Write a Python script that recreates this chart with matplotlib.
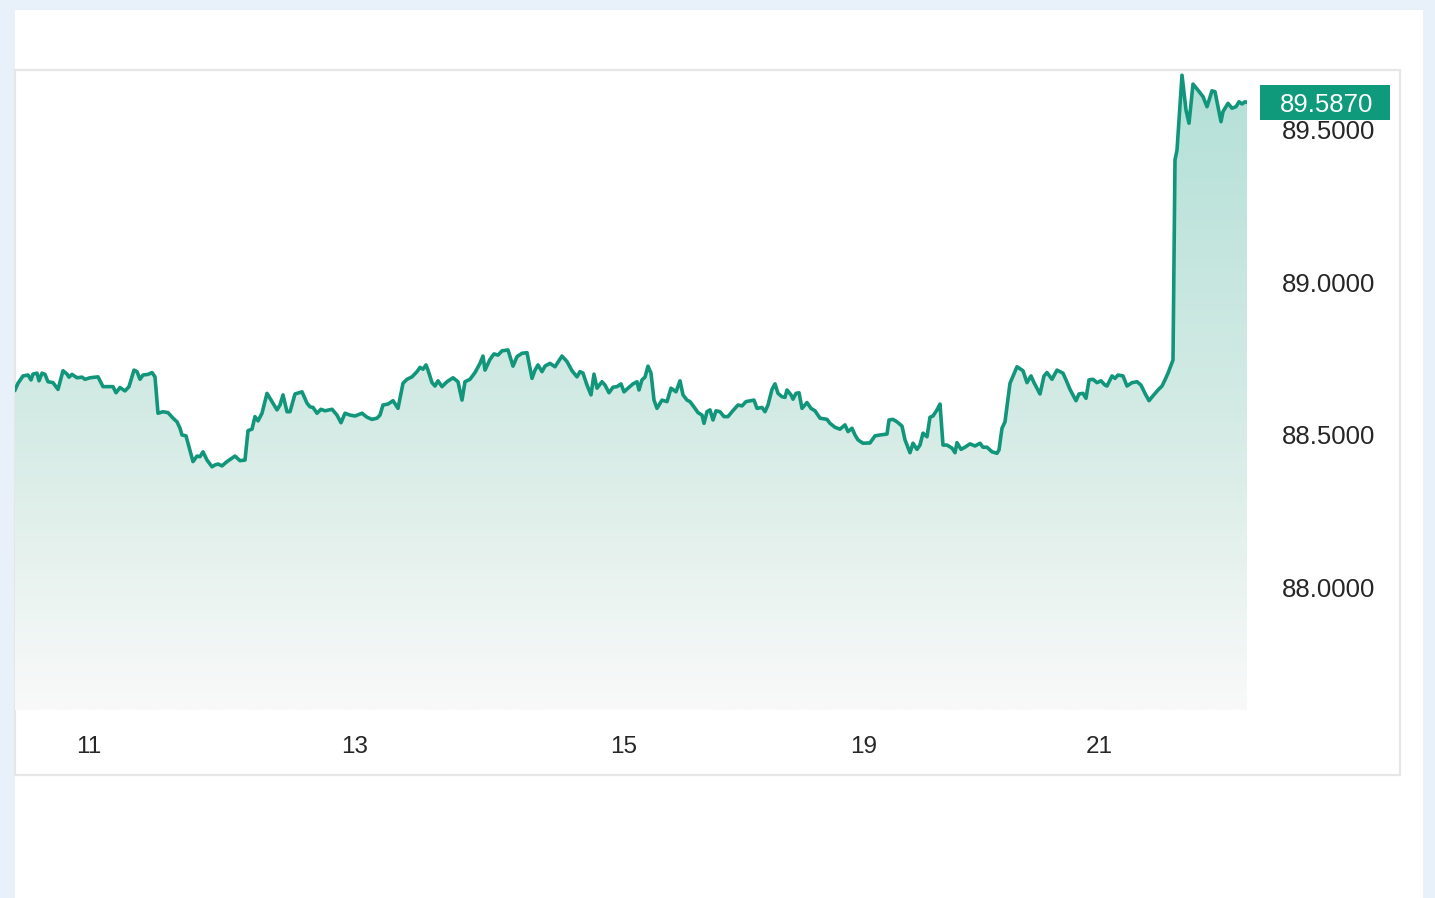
"""
Intraday price line with gradient area fill, styled like a finance widget.
"""

import numpy as np
import matplotlib.pyplot as plt
from matplotlib.colors import LinearSegmentedColormap
from matplotlib.patches import Rectangle
from matplotlib import transforms

# time position along the session axis (trading time units)
t = [
    0, 3, 8, 13, 16, 18, 22, 24, 27, 30,
    33, 38, 43, 48, 52, 54, 57, 62, 67, 70,
    75, 83, 88, 95, 98, 101, 105, 110, 114, 119,
    122, 125, 128, 133, 137, 140, 143, 148, 153, 158,
    162, 165, 167, 171, 173, 178, 182, 185, 188, 192,
    197, 200, 203, 207, 212, 217, 220, 225, 230, 233,
    237, 240, 243, 247, 252, 257, 262, 265, 268, 272,
    275, 280, 287, 292, 295, 298, 302, 306, 310, 317,
    322, 326, 330, 335, 340, 347, 352, 357, 362, 365,
    368, 373, 378, 383, 388, 392, 397, 402, 405, 408,
    411, 413, 417, 420, 423, 427, 432, 438, 443, 447,
    450, 455, 460, 465, 468, 470, 475, 479, 483, 487,
    493, 498, 502, 507, 512, 517, 520, 523, 527, 530,
    535, 540, 547, 552, 557, 562, 565, 568, 572, 576,
    579, 582, 587, 590, 594, 598, 602, 606, 609, 613,
    618, 622, 624, 627, 630, 633, 636, 639, 642, 647,
    652, 656, 661, 665, 668, 672, 675, 680, 683, 687,
    689, 692, 695, 698, 701, 705, 709, 713, 717, 720,
    723, 727, 731, 736, 739, 742, 747, 750, 753, 757,
    760, 763, 767, 770, 772, 776, 778, 781, 784, 787,
    792, 796, 800, 805, 812, 815, 820, 825, 830, 833,
    837, 840, 843, 848, 855, 860, 865, 872, 874, 878,
    882, 887, 890, 895, 898, 902, 905, 908, 912, 915,
    918, 922, 925, 928, 932, 937, 940, 942, 946, 950,
    955, 960, 965, 968, 972, 977, 982, 984, 987, 990,
    995, 1002, 1008, 1012, 1016, 1019, 1025, 1029, 1032, 1037,
    1042, 1048, 1051, 1055, 1061, 1064, 1068, 1071, 1074, 1078,
    1082, 1086, 1090, 1092, 1097, 1100, 1103, 1108, 1112, 1117,
    1122, 1126, 1130, 1134, 1138, 1143, 1147, 1150, 1153, 1158,
    1160, 1162, 1167, 1171, 1174, 1178, 1183, 1188, 1192, 1197,
    1200, 1206, 1208, 1213, 1217, 1221, 1224, 1227, 1230, 1232,
]

price = [
    88.647, 88.669, 88.693, 88.696, 88.680, 88.699, 88.702, 88.677, 88.702, 88.698,
    88.674, 88.671, 88.649, 88.710, 88.699, 88.689, 88.698, 88.687, 88.689, 88.682,
    88.687, 88.690, 88.658, 88.658, 88.658, 88.638, 88.655, 88.644, 88.658, 88.712,
    88.707, 88.682, 88.696, 88.698, 88.704, 88.690, 88.571, 88.576, 88.573, 88.555,
    88.543, 88.522, 88.500, 88.497, 88.473, 88.413, 88.431, 88.429, 88.445, 88.418,
    88.396, 88.402, 88.405, 88.399, 88.413, 88.424, 88.431, 88.416, 88.418, 88.514,
    88.519, 88.560, 88.546, 88.571, 88.636, 88.609, 88.582, 88.598, 88.631, 88.576,
    88.576, 88.634, 88.641, 88.604, 88.592, 88.590, 88.571, 88.584, 88.579, 88.584,
    88.565, 88.540, 88.571, 88.565, 88.562, 88.571, 88.558, 88.551, 88.555, 88.565,
    88.598, 88.601, 88.612, 88.587, 88.669, 88.682, 88.690, 88.707, 88.721, 88.715,
    88.729, 88.712, 88.671, 88.660, 88.677, 88.658, 88.674, 88.687, 88.674, 88.614,
    88.674, 88.682, 88.704, 88.734, 88.758, 88.712, 88.747, 88.765, 88.761, 88.775,
    88.778, 88.725, 88.756, 88.767, 88.769, 88.685, 88.712, 88.729, 88.707, 88.725,
    88.734, 88.723, 88.758, 88.740, 88.710, 88.690, 88.707, 88.702, 88.663, 88.631,
    88.699, 88.653, 88.674, 88.663, 88.638, 88.656, 88.658, 88.667, 88.641, 88.653,
    88.667, 88.674, 88.647, 88.680, 88.689, 88.725, 88.702, 88.614, 88.587, 88.614,
    88.609, 88.653, 88.641, 88.677, 88.631, 88.614, 88.609, 88.587, 88.573, 88.565,
    88.538, 88.576, 88.582, 88.549, 88.579, 88.576, 88.560, 88.560, 88.576, 88.587,
    88.598, 88.595, 88.609, 88.612, 88.614, 88.587, 88.590, 88.576, 88.598, 88.649,
    88.667, 88.636, 88.625, 88.623, 88.647, 88.631, 88.617, 88.636, 88.638, 88.587,
    88.606, 88.587, 88.579, 88.555, 88.551, 88.538, 88.525, 88.519, 88.533, 88.511,
    88.522, 88.500, 88.484, 88.473, 88.474, 88.497, 88.500, 88.503, 88.549, 88.551,
    88.543, 88.529, 88.484, 88.442, 88.473, 88.453, 88.467, 88.506, 88.494, 88.558,
    88.562, 88.582, 88.601, 88.467, 88.467, 88.457, 88.442, 88.475, 88.453, 88.460,
    88.471, 88.464, 88.473, 88.460, 88.460, 88.445, 88.440, 88.451, 88.522, 88.543,
    88.669, 88.723, 88.710, 88.671, 88.693, 88.671, 88.634, 88.693, 88.704, 88.682,
    88.712, 88.702, 88.680, 88.649, 88.612, 88.634, 88.636, 88.620, 88.680, 88.682,
    88.671, 88.677, 88.663, 88.660, 88.693, 88.685, 88.696, 88.693, 88.660, 88.671,
    88.674, 88.663, 88.636, 88.612, 88.628, 88.647, 88.660, 88.680, 88.702, 88.745,
    89.399, 89.431, 89.676, 89.562, 89.519, 89.647, 89.627, 89.606, 89.573, 89.625,
    89.622, 89.524, 89.557, 89.584, 89.568, 89.573, 89.589, 89.582, 89.589, 89.587,
]

day_ticks = [74, 340, 609, 849, 1084]
day_labels = ["11", "13", "15", "19", "21"]
price_ticks = [88.0, 88.5, 89.0, 89.5]
last_price = 89.5870

LINE = "#12967b"
FONT = "Liberation Sans"

W, H = 1435, 898
fig = plt.figure(figsize=(W / 100, H / 100), dpi=100, facecolor="#e8f1fa")

# white card and chart frame, kept behind the axes
fig.patches.append(Rectangle((15 / W, 0), 1408 / W, 888 / H, transform=fig.transFigure,
                             facecolor="white", edgecolor="none", zorder=-10))
fig.patches.append(Rectangle((15 / W, 123 / H), 1385 / W, 705 / H, transform=fig.transFigure,
                             facecolor="none", edgecolor="#e6e6e6", lw=1.6, zorder=-5))

ax = fig.add_axes([15 / W, 188 / H, 1232 / W, 640 / H])
ax.set_zorder(5)
ax.patch.set_visible(False)
ymin, ymax = 87.601, 89.693

# gradient area under the line
cmap = LinearSegmentedColormap.from_list(
    "area",
    [(0.0, "#b1ded5"), (0.09, "#b8e2da"), (0.55, "#d5ebe5"),
     (0.77, "#e7f2ee"), (0.91, "#f2f7f6"), (1.0, "#f9f9f9")],
)
poly = ax.fill_between(t, price, ymin, color="none", lw=0)
grad = np.linspace(0, 1, 256).reshape(-1, 1)
im = ax.imshow(grad, cmap=cmap, aspect="auto", extent=[0, 1232, ymin, ymax],
               origin="upper", zorder=1)
im.set_clip_path(poly.get_paths()[0], transform=ax.transData)
ax.set_xlim(0, 1232)
ax.set_ylim(ymin, ymax)

ax.plot(t, price, color=LINE, lw=2.6, solid_joinstyle="round", zorder=3)

for s in ax.spines.values():
    s.set_visible(False)

ax.set_xticks(day_ticks)
ax.set_xticklabels(day_labels)
ax.yaxis.tick_right()
ax.set_yticks(price_ticks)
ax.set_yticklabels([f"{v:.4f}" for v in price_ticks])
ax.tick_params(axis="x", length=0, pad=19, labelsize=17.5, labelcolor="#262626")
ax.tick_params(axis="y", length=0, pad=25, labelsize=18.5, labelcolor="#262626")
for lbl in ax.get_xticklabels() + ax.get_yticklabels():
    lbl.set_fontfamily(FONT)

# last price tag
tr = transforms.blended_transform_factory(fig.transFigure, ax.transData)
box_h = 35 / 640 * (ymax - ymin)
ax.add_patch(Rectangle((1260 / W, last_price - box_h / 2), 130 / W, box_h, transform=tr,
                       facecolor="#0f9a7c", edgecolor="none", clip_on=False, zorder=10))
ax.text(1327 / W, last_price, f"{last_price:.4f}", transform=tr, color="white",
        fontsize=18.5, fontfamily=FONT, ha="center", va="center_baseline", zorder=11,
        clip_on=False)

fig.savefig("out.png", dpi=100, facecolor=fig.get_facecolor())
